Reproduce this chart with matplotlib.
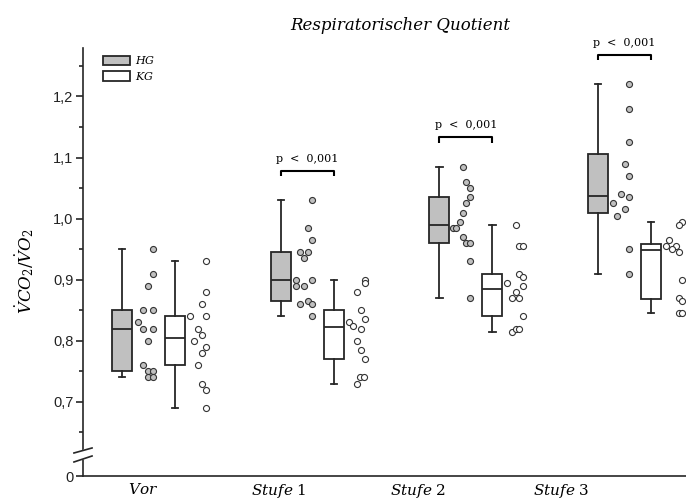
import numpy as np
import matplotlib
matplotlib.use('Agg')
import matplotlib.pyplot as plt
from matplotlib.patches import Patch
from matplotlib.ticker import FixedLocator, FixedFormatter

plt.rcParams['mathtext.fontset'] = 'dejavuserif'
plt.rcParams['font.family'] = ['Liberation Sans', 'DejaVu Sans']

# x tick labels (math italic like the original Word/Origin figure)
tick_text = [r'$Vor$', r'$Stufe\ 1$', r'$Stufe\ 2$', r'$Stufe\ 3$']
label_pos = [-0.035, 0.822, 1.698, 2.599]

# box statistics per stage
hg_whislo = [0.74, 0.84, 0.87, 0.91]
hg_q1 = [0.75, 0.865, 0.96, 1.01]
hg_med = [0.82, 0.90, 0.99, 1.037]
hg_q3 = [0.85, 0.945, 1.035, 1.106]
hg_whishi = [0.95, 1.03, 1.085, 1.22]

kg_whislo = [0.69, 0.73, 0.815, 0.845]
kg_q1 = [0.76, 0.77, 0.84, 0.868]
kg_med = [0.805, 0.822, 0.885, 0.948]
kg_q3 = [0.84, 0.85, 0.91, 0.959]
kg_whishi = [0.93, 0.90, 0.99, 0.995]

# single values
hg_vals = [
    [0.95, 0.91, 0.89, 0.85, 0.85, 0.83, 0.82, 0.82, 0.80, 0.76, 0.75, 0.75, 0.74, 0.74],
    [1.03, 0.985, 0.965, 0.945, 0.945, 0.935, 0.90, 0.90, 0.89, 0.89, 0.86, 0.865, 0.86, 0.84],
    [1.085, 1.06, 1.05, 1.035, 1.025, 1.01, 0.995, 0.985, 0.985, 0.97, 0.96, 0.96, 0.93, 0.87],
    [1.22, 1.18, 1.125, 1.09, 1.07, 1.04, 1.035, 1.025, 1.015, 1.005, 0.95, 0.91],
]
kg_vals = [
    [0.93, 0.88, 0.86, 0.84, 0.84, 0.82, 0.81, 0.80, 0.79, 0.78, 0.76, 0.73, 0.72, 0.69],
    [0.90, 0.895, 0.88, 0.85, 0.835, 0.83, 0.825, 0.82, 0.80, 0.785, 0.77, 0.74, 0.74, 0.73],
    [0.99, 0.955, 0.955, 0.91, 0.905, 0.895, 0.89, 0.88, 0.87, 0.87, 0.84, 0.815, 0.82, 0.82],
    [0.995, 0.99, 0.965, 0.955, 0.955, 0.95, 0.945, 0.90, 0.87, 0.865, 0.845, 0.845],
]

# horizontal jitter of the single values (pixels right of the box centre)
hg_jit = [
    [31, 31, 26, 21, 31, 16, 21, 31, 26, 21, 26, 31, 26, 31],
    [31, 27, 31, 19, 27, 23, 15, 31, 15, 23, 19, 27, 31, 31],
    [24, 27, 31, 31, 27, 24, 21, 14, 17, 24, 27, 31, 31, 31],
    [31, 31, 31, 27, 31, 23, 31, 15, 27, 19, 31, 31],
]
kg_jit = [
    [31, 31, 27, 15, 31, 23, 27, 19, 31, 27, 23, 27, 31, 31],
    [31, 31, 23, 27, 31, 15, 19, 27, 23, 27, 31, 26, 30, 23],
    [24, 27, 31, 27, 31, 15, 31, 24, 20, 27, 31, 20, 24, 27],
    [31, 28, 18, 15, 25, 21, 28, 31, 28, 31, 28, 31],
]
PX = 158.7  # pixels per category step

grey = '#c0c0c0'
dark = '#262626'


def fwd(y):
    y = np.asarray(y, dtype=float)
    return np.where(y >= 0.6, y, 0.5787 + y * 0.0355)


def inv(t):
    t = np.asarray(t, dtype=float)
    return np.where(t >= 0.6, t, (t - 0.5787) / 0.0355)


fig = plt.figure(figsize=(6.86, 5.03), dpi=100)
ax = fig.add_axes([83 / 686, 27 / 503, 603 / 686, 428.4 / 503])
ax.set_yscale('function', functions=(fwd, inv))

pos = np.arange(4)
hg_pos = pos - 0.167
kg_pos = pos + 0.167


def stats(lo, q1, med, q3, hi):
    return [dict(whislo=a, q1=b, med=c, q3=d, whishi=e)
            for a, b, c, d, e in zip(lo, q1, med, q3, hi)]


for st, p, fc in [(stats(hg_whislo, hg_q1, hg_med, hg_q3, hg_whishi), hg_pos, grey),
                  (stats(kg_whislo, kg_q1, kg_med, kg_q3, kg_whishi), kg_pos, 'white')]:
    ax.bxp(st, positions=p, widths=0.126, patch_artist=True, showfliers=False,
           capwidths=0.04, manage_ticks=False,
           boxprops=dict(facecolor=fc, edgecolor=dark, linewidth=1.3),
           medianprops=dict(color=dark, linewidth=1.3),
           whiskerprops=dict(color=dark, linewidth=1.3),
           capprops=dict(color=dark, linewidth=1.3))

for i in range(4):
    ax.scatter(hg_pos[i] + np.array(hg_jit[i]) / PX, hg_vals[i], s=19,
               facecolor=grey, edgecolor='#333333', linewidth=0.8, zorder=3)
    ax.scatter(kg_pos[i] + np.array(kg_jit[i]) / PX, kg_vals[i], s=19,
               facecolor='white', edgecolor='#333333', linewidth=0.8, zorder=3)

# significance brackets for stages 1-3
for i in range(1, 4):
    top = max(hg_whishi[i], kg_whishi[i]) + 0.048
    ax.plot([hg_pos[i], hg_pos[i], kg_pos[i], kg_pos[i]],
            [top - 0.009, top, top, top - 0.009], color='black', lw=1.5,
            solid_capstyle='butt')
    ax.text(pos[i], top + 0.012, 'p  <  0,001', ha='center', va='bottom',
            fontsize=8, family='DejaVu Serif')

ax.set_xlim(-0.413, 3.387)
ax.set_ylim(0, 1.28)

ax.yaxis.set_major_locator(FixedLocator([0, 0.7, 0.8, 0.9, 1.0, 1.1, 1.2]))
ax.yaxis.set_major_formatter(FixedFormatter(['0', '0,7', '0,8', '0,9', '1,0', '1,1', '1,2']))
ax.yaxis.set_minor_locator(FixedLocator([0.65, 0.75, 0.85, 0.95, 1.05, 1.15, 1.25]))
ax.tick_params(axis='y', which='major', length=5, width=1.2, labelsize=10.5,
               colors=dark, labelcolor='#222222', pad=2)
ax.tick_params(axis='y', which='minor', length=3, width=1.2, colors=dark)
ax.set_xticks(label_pos)
ax.set_xticklabels(tick_text, fontsize=11)
ax.tick_params(axis='x', length=0, pad=4)

for s in ['top', 'right']:
    ax.spines[s].set_visible(False)
for s in ['left', 'bottom']:
    ax.spines[s].set_linewidth(1.2)
    ax.spines[s].set_color(dark)

# axis break marks
ax.fill([-0.015, 0.015, 0.015, -0.015], [0.0327, 0.0467, 0.0654, 0.0537],
        color='white', transform=ax.transAxes, clip_on=False, zorder=4)
for y0, y1 in [(0.0327, 0.0467), (0.0537, 0.0654)]:
    ax.plot([-0.015, 0.015], [y0, y1], color=dark, lw=1.2,
            transform=ax.transAxes, clip_on=False, zorder=5)

handles = [Patch(facecolor=grey, edgecolor=dark, linewidth=1.3),
           Patch(facecolor='white', edgecolor=dark, linewidth=1.3)]
ax.legend(handles, [r'$HG$', r'$KG$'], loc='upper left',
          bbox_to_anchor=(0.033, 0.985), frameon=False, fontsize=8,
          handlelength=2.4, handleheight=0.9, handletextpad=0.5,
          labelspacing=0.35, borderpad=0, borderaxespad=0)

fig.text(400 / 686, 1 - 25 / 503, 'Respiratorischer Quotient', ha='center',
         va='center', fontsize=12, family='DejaVu Serif', style='italic')
fig.text(25 / 686, 1 - 271 / 503, r'$\dot{V}CO_2/\dot{V}O_2$', rotation=90,
         ha='center', va='center', fontsize=12)

fig.savefig('out.png', dpi=100)
